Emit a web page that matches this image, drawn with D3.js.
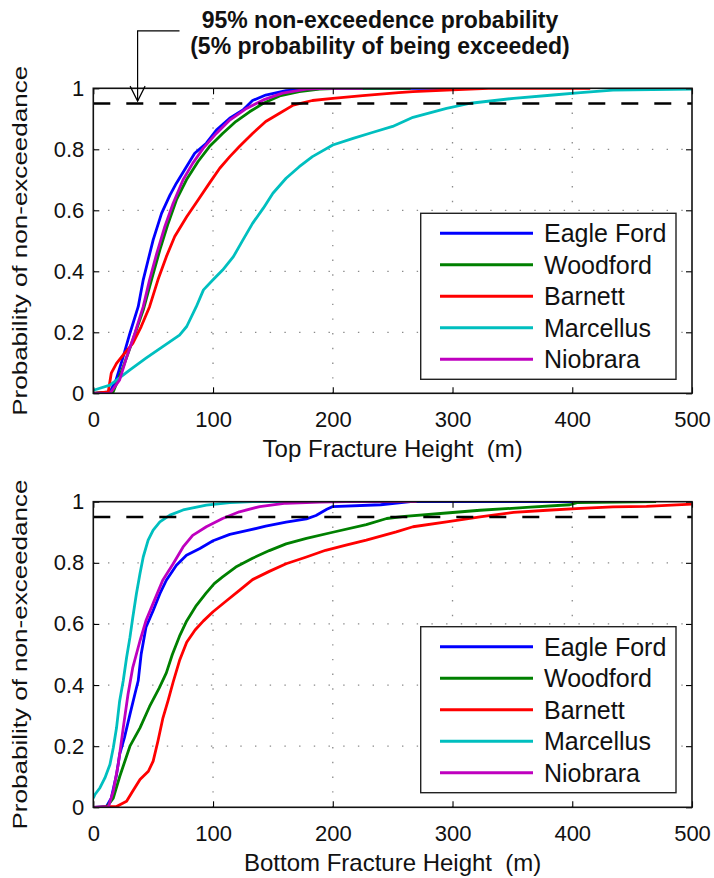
<!DOCTYPE html>
<html><head><meta charset="utf-8">
<script src="https://cdn.jsdelivr.net/npm/d3@7"></script>
<style>
body{margin:0;background:#fff}
svg{display:block}
text{font-family:"Liberation Sans",Arial,Helvetica,sans-serif;fill:#111}
</style>
</head><body>
<svg id="chart" width="714" height="878"></svg>
<script>
// ---------- data ----------
const seriesNames = ["Eagle Ford", "Woodford", "Barnett", "Marcellus", "Niobrara"];
const seriesColors = ["#0000FF", "#008000", "#FF0000", "#00BFBF", "#BF00BF"];
const xTicks = [0, 100, 200, 300, 400, 500];
const yTicks = [0, 0.2, 0.4, 0.6, 0.8, 1];
const yTickLabels = ["0", "0.2", "0.4", "0.6", "0.8", "1"];
const threshold = 0.95;
const titleLines = ["95% non-exceedence probability", "(5% probability of being exceeded)"];
const yLabel = "Probability of non-exceedance";
const xLabels = ["Top Fracture Height  (m)", "Bottom Fracture Height  (m)"];
// annotation leader in data units of top panel: [height, probability]
const annotationPath = [[72, 1.188], [37, 1.188], [37, 0.958]];

// Top fracture height CDFs: [height (m), probability]
const topEagleFord = [[0,0],[14,0.005],[19,0.044],[25,0.12],[30.6,0.197],[37.5,0.284],[41.7,0.372],[45.8,0.437],[50,0.503],[57,0.59],[64,0.65],[69.4,0.689],[77.8,0.743],[84.7,0.787],[94.4,0.82],[102.8,0.863],[113.9,0.902],[125,0.929],[133,0.96],[144,0.978],[161,0.992],[183,0.999],[200,1],[315,1]];
const topWoodford = [[0,0],[16.7,0.005],[25,0.087],[33,0.175],[41.7,0.273],[48.6,0.372],[55.6,0.47],[62.5,0.557],[69.4,0.634],[77.8,0.7],[87.5,0.76],[97,0.809],[108,0.852],[119,0.891],[130.5,0.923],[142,0.951],[155.6,0.975],[172,0.989],[189,0.997],[205,1],[265,1]];
const topBarnett = [[0,0],[12.5,0.005],[15,0.066],[19.4,0.098],[25,0.126],[33,0.164],[40,0.219],[47,0.284],[54,0.372],[61,0.448],[68,0.514],[78,0.579],[87.5,0.634],[97,0.689],[105.6,0.738],[114,0.776],[122,0.809],[133,0.852],[144,0.891],[155.6,0.918],[167,0.945],[183,0.96],[200,0.967],[225,0.976],[255,0.986],[267,0.989],[300,0.995],[330,1],[415,1]];
const topMarcellus = [[0,0.01],[13.9,0.027],[30.6,0.077],[44,0.115],[58,0.153],[72,0.191],[78,0.219],[86,0.284],[92,0.339],[100,0.372],[108,0.404],[117,0.448],[125,0.503],[133,0.557],[142,0.607],[150,0.656],[161,0.705],[172,0.743],[183,0.776],[200,0.814],[217,0.836],[233,0.855],[250,0.875],[267,0.905],[295,0.934],[315,0.951],[351,0.967],[384,0.978],[407,0.986],[434,0.994],[500,0.997]];
const topNiobrara = [[0,0],[14,0],[22,0.044],[28,0.12],[34.7,0.197],[41.7,0.284],[47,0.372],[53,0.459],[59.7,0.546],[66.7,0.623],[75,0.7],[83,0.754],[91.7,0.803],[102.8,0.852],[114,0.896],[128,0.934],[142,0.962],[158,0.984],[178,0.997],[195,1],[225,1]];

// Bottom fracture height CDFs
const botEagleFord = [[0,0],[11,0.003],[15,0.03],[19.4,0.107],[22,0.173],[26,0.228],[30.6,0.304],[34.7,0.37],[37.5,0.414],[40,0.502],[44,0.589],[50,0.644],[55.6,0.699],[61,0.743],[69.4,0.792],[77.8,0.825],[89,0.847],[100,0.872],[114,0.893],[128,0.905],[144,0.92],[161,0.933],[178,0.944],[186,0.955],[195,0.975],[200,0.984],[240,0.99],[265,1],[401,1]];
const botWoodford = [[0,0],[11,0],[16.7,0.03],[22,0.1],[30.6,0.2],[39,0.26],[47,0.33],[55,0.39],[61,0.44],[66,0.5],[72,0.56],[78,0.61],[86,0.66],[94,0.7],[101,0.732],[108,0.754],[119,0.786],[133,0.815],[147,0.84],[161,0.862],[178,0.88],[200,0.9],[228,0.925],[245,0.945],[260,0.952],[295,0.963],[323,0.972],[365,0.982],[398,0.99],[404,0.997],[470,1]];
const botBarnett = [[0,0],[19.4,0.003],[27.8,0.02],[33,0.053],[39,0.091],[46,0.118],[50,0.151],[54,0.217],[58,0.29],[62.5,0.35],[66.7,0.41],[72,0.48],[78,0.54],[85,0.58],[92,0.61],[100,0.64],[111,0.675],[122,0.71],[133,0.745],[147,0.772],[161,0.797],[178,0.819],[194,0.841],[211,0.858],[228,0.874],[253,0.901],[267,0.918],[295,0.934],[323,0.95],[351,0.965],[379,0.972],[407,0.978],[434,0.983],[462,0.985],[500,0.992]];
const botMarcellus = [[0,0.03],[1.4,0.042],[5.6,0.064],[9.7,0.096],[13.9,0.14],[16.7,0.195],[19.4,0.26],[22,0.348],[25,0.414],[27.8,0.49],[30.6,0.556],[33,0.622],[36,0.699],[39,0.765],[41.7,0.819],[45.8,0.874],[50,0.907],[55.6,0.934],[64,0.956],[75,0.973],[94.4,0.989],[114,0.997],[133,1],[180,1]];
const botNiobrara = [[0,0],[12.5,0],[16.7,0.053],[20.8,0.14],[25,0.26],[29,0.37],[33,0.458],[39,0.545],[44,0.611],[51,0.677],[58,0.743],[66.7,0.797],[75,0.852],[83,0.89],[94.4,0.918],[108,0.945],[122,0.967],[139,0.984],[161,0.995],[189,0.999],[211,1],[270,1]];

const panelSeries = [
  [topEagleFord, topWoodford, topBarnett, topMarcellus, topNiobrara],
  [botEagleFord, botWoodford, botBarnett, botMarcellus, botNiobrara]
];

// ---------- layout ----------
const plotLeft = 93.3, plotRight = 692;
const panels = [
  {top: 88.3, bottom: 393.3, legendTop: 213.3},
  {top: 501.7, bottom: 807.3, legendTop: 626.7}
];
const FONT = '"Liberation Sans",Arial,Helvetica,sans-serif';
const svg = d3.select("#chart");

const x = d3.scaleLinear().domain([0, 500]).range([plotLeft, plotRight]);

panels.forEach((p, pi) => {
  const y = d3.scaleLinear().domain([0, 1]).range([p.bottom, p.top]);
  const g = svg.append("g");
  const clipId = "clip" + pi;
  svg.append("defs").append("clipPath").attr("id", clipId)
    .append("rect").attr("x", plotLeft).attr("y", p.top)
    .attr("width", plotRight - plotLeft).attr("height", p.bottom - p.top);

  // grid
  g.append("g").selectAll("line").data(xTicks.slice(1, -1)).join("line")
    .attr("x1", d => x(d)).attr("x2", d => x(d)).attr("y1", p.bottom).attr("y2", p.top)
    .attr("stroke", "#8a8a8a").attr("stroke-width", 1.3).attr("stroke-dasharray", "1.4,13.3");
  g.append("g").selectAll("line").data(yTicks.slice(1, -1)).join("line")
    .attr("y1", d => y(d)).attr("y2", d => y(d)).attr("x1", plotLeft).attr("x2", plotRight)
    .attr("stroke", "#8a8a8a").attr("stroke-width", 1.3).attr("stroke-dasharray", "1.4,13.3");

  // curves
  const line = d3.line().x(d => x(d[0])).y(d => y(d[1]));
  const cg = g.append("g").attr("clip-path", `url(#${clipId})`);
  panelSeries[pi].forEach((s, si) => {
    cg.append("path").datum(s).attr("d", line)
      .attr("fill", "none").attr("stroke", seriesColors[si])
      .attr("stroke-width", 2.8).attr("stroke-linejoin", "round").attr("stroke-linecap", "butt");
  });

  // threshold dashed line
  g.append("line").attr("x1", x(0)).attr("x2", x(500)).attr("y1", y(threshold)).attr("y2", y(threshold))
    .attr("stroke", "#000").attr("stroke-width", 2.6).attr("stroke-dasharray", "17,16");

  // axes (inward ticks)
  const styleAxis = sel => {
    sel.select(".domain").remove();
    sel.selectAll(".tick line").attr("stroke", "#000").attr("stroke-width", 1.1);
    sel.selectAll("text").attr("font-family", FONT).attr("font-size", 22).attr("fill", "#111");
  };
  g.append("g").attr("transform", `translate(0,${p.bottom})`)
    .call(d3.axisBottom(x).tickValues(xTicks).tickSize(-6).tickPadding(18).tickFormat(d => String(d)))
    .call(styleAxis);
  g.append("g").attr("transform", `translate(0,${p.top})`)
    .call(d3.axisTop(x).tickValues(xTicks).tickSize(-6).tickFormat(""))
    .call(styleAxis);
  g.append("g").attr("transform", `translate(${plotLeft},0)`)
    .call(d3.axisLeft(y).tickValues(yTicks).tickSize(-6).tickPadding(9).tickFormat((d, i) => yTickLabels[i]))
    .call(styleAxis);
  g.append("g").attr("transform", `translate(${plotRight},0)`)
    .call(d3.axisRight(y).tickValues(yTicks).tickSize(-6).tickFormat(""))
    .call(styleAxis);

  // box
  g.append("rect").attr("x", plotLeft).attr("y", p.top)
    .attr("width", plotRight - plotLeft).attr("height", p.bottom - p.top)
    .attr("fill", "none").attr("stroke", "#111").attr("stroke-width", 1.6);

  // x label
  g.append("text").attr("x", (plotLeft + plotRight) / 2).attr("y", p.bottom + 64)
    .attr("text-anchor", "middle").attr("font-size", 24).style("white-space", "pre")
    .text(xLabels[pi]);

  // y label
  g.append("text").attr("transform", `translate(27,${(p.top + p.bottom) / 2}) rotate(-90)`)
    .attr("text-anchor", "middle").attr("font-size", 21)
    .attr("textLength", 350).attr("lengthAdjust", "spacingAndGlyphs")
    .text(yLabel);

  // legend
  const lg = g.append("g").attr("transform", `translate(420.7,${p.legendTop})`);
  lg.append("rect").attr("width", 255.3).attr("height", 166).attr("fill", "#fff")
    .attr("stroke", "#222").attr("stroke-width", 1.4);
  seriesNames.forEach((name, si) => {
    const ry = 20 + si * 31.5;
    lg.append("line").attr("x1", 19.3).attr("x2", 112.3).attr("y1", ry).attr("y2", ry)
      .attr("stroke", seriesColors[si]).attr("stroke-width", 3);
    lg.append("text").attr("x", 123.3).attr("y", ry).attr("dy", "0.36em")
      .attr("font-size", 25).text(name);
  });

  // annotation (top panel only)
  if (pi === 0) {
    const pts = annotationPath.map(d => [x(d[0]), y(d[1])]);
    g.append("path").attr("d", d3.line()(pts)).attr("fill", "none")
      .attr("stroke", "#000").attr("stroke-width", 1.2);
    const tip = pts[pts.length - 1];
    g.append("path").attr("d", d3.line()([[tip[0] - 7.5, tip[1] - 15], tip, [tip[0] + 7.5, tip[1] - 15]]))
      .attr("fill", "none").attr("stroke", "#000").attr("stroke-width", 1.2);
    const t = g.append("text").attr("text-anchor", "middle").attr("font-weight", "bold").attr("font-size", 23);
    titleLines.forEach((ln, li) => {
      t.append("tspan").attr("x", 380).attr("y", 28 + li * 25.5).text(ln);
    });
  }
});
</script>
</body></html>
